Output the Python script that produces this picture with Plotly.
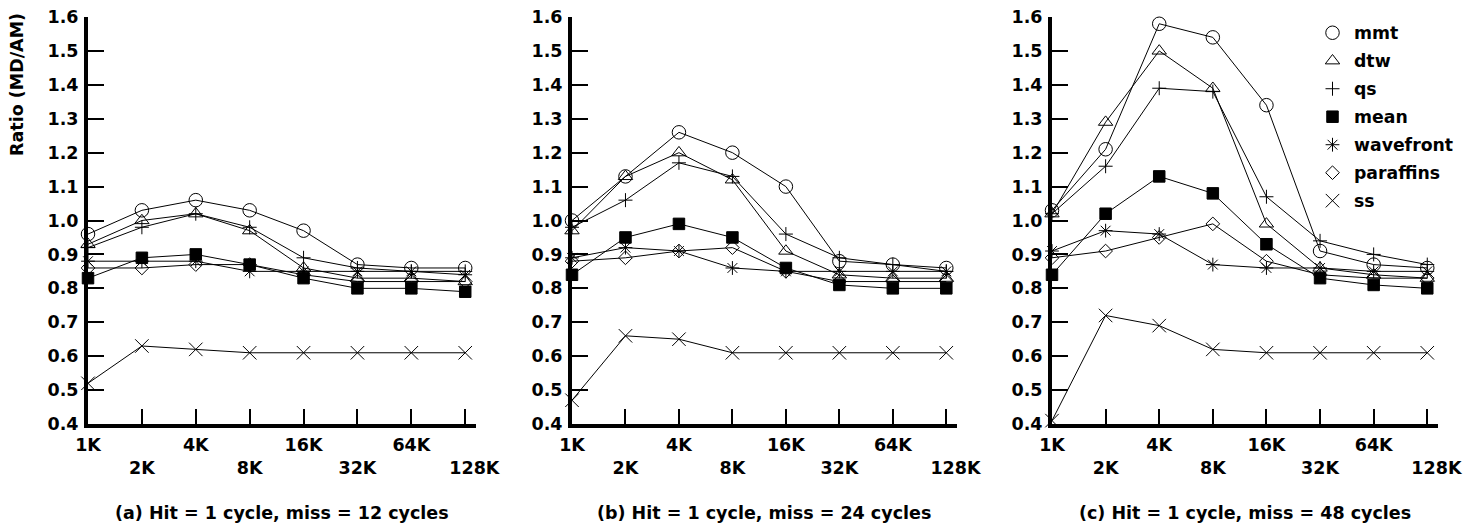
import plotly.graph_objects as go

sizes = ["1K", "2K", "4K", "8K", "16K", "32K", "64K", "128K"]
series_names = ["mmt", "dtw", "qs", "mean", "wavefront", "paraffins", "ss"]

# Panel (a): hit = 1 cycle, miss = 12 cycles
a_mmt = [0.96, 1.03, 1.06, 1.03, 0.97, 0.87, 0.86, 0.86]
a_dtw = [0.93, 1.00, 1.02, 0.97, 0.86, 0.83, 0.83, 0.82]
a_qs = [0.92, 0.98, 1.02, 0.98, 0.89, 0.86, 0.85, 0.85]
a_mean = [0.83, 0.89, 0.90, 0.87, 0.83, 0.80, 0.80, 0.79]
a_wavefront = [0.88, 0.88, 0.88, 0.85, 0.85, 0.85, 0.85, 0.84]
a_paraffins = [0.86, 0.86, 0.87, 0.87, 0.84, 0.82, 0.82, 0.82]
a_ss = [0.52, 0.63, 0.62, 0.61, 0.61, 0.61, 0.61, 0.61]

# Panel (b): hit = 1 cycle, miss = 24 cycles
b_mmt = [1.00, 1.13, 1.26, 1.20, 1.10, 0.88, 0.87, 0.86]
b_dtw = [0.97, 1.13, 1.20, 1.12, 0.91, 0.84, 0.83, 0.83]
b_qs = [0.98, 1.06, 1.17, 1.13, 0.96, 0.89, 0.87, 0.85]
b_mean = [0.84, 0.95, 0.99, 0.95, 0.86, 0.81, 0.80, 0.80]
b_wavefront = [0.89, 0.92, 0.91, 0.86, 0.85, 0.85, 0.85, 0.85]
b_paraffins = [0.88, 0.89, 0.91, 0.92, 0.85, 0.82, 0.82, 0.82]
b_ss = [0.47, 0.66, 0.65, 0.61, 0.61, 0.61, 0.61, 0.61]

# Panel (c): hit = 1 cycle, miss = 48 cycles
c_mmt = [1.03, 1.21, 1.58, 1.54, 1.34, 0.91, 0.87, 0.86]
c_dtw = [1.02, 1.29, 1.50, 1.39, 0.99, 0.86, 0.84, 0.83]
c_qs = [1.02, 1.16, 1.39, 1.38, 1.07, 0.94, 0.90, 0.87]
c_mean = [0.84, 1.02, 1.13, 1.08, 0.93, 0.83, 0.81, 0.80]
c_wavefront = [0.91, 0.97, 0.96, 0.87, 0.86, 0.86, 0.85, 0.85]
c_paraffins = [0.89, 0.91, 0.95, 0.99, 0.88, 0.84, 0.83, 0.83]
c_ss = [0.41, 0.72, 0.69, 0.62, 0.61, 0.61, 0.61, 0.61]

captions = ["(a) Hit = 1 cycle, miss = 12 cycles",
            "(b) Hit = 1 cycle, miss = 24 cycles",
            "(c) Hit = 1 cycle, miss = 48 cycles"]
y_ticks = [0.4, 0.5, 0.6, 0.7, 0.8, 0.9, 1.0, 1.1, 1.2, 1.3, 1.4, 1.5, 1.6]

panels = [
    [a_mmt, a_dtw, a_qs, a_mean, a_wavefront, a_paraffins, a_ss],
    [b_mmt, b_dtw, b_qs, b_mean, b_wavefront, b_paraffins, b_ss],
    [c_mmt, c_dtw, c_qs, c_mean, c_wavefront, c_paraffins, c_ss],
]

symbols = ["circle-open", "triangle-up-open", "cross-thin-open", "square",
           "asterisk-open", "diamond-open", "x-thin-open"]
msizes = [13.5, 12.5, 10, 11.5, 11.5, 10.5, 13.5]

W, H = 1481, 525


def px(x):
    return x / W


def py(y):
    return 1 - y / H


FONT = "DejaVu Sans, Verdana, sans-serif"
FS = 17.5
x_domains = [(px(88), px(476)), (px(572), px(957)), (px(1052), px(1438))]
y_domain = (py(424), py(17))

xs = list(range(len(sizes)))
fig = go.Figure()

for p, data in enumerate(panels):
    xa = "x" if p == 0 else f"x{p + 1}"
    ya = "y" if p == 0 else f"y{p + 1}"
    for s, vals in enumerate(data):
        fig.add_trace(go.Scatter(
            x=xs, y=vals, mode="lines", xaxis=xa, yaxis=ya,
            line=dict(color="black", width=1), showlegend=False,
            hoverinfo="skip"))
    for s, vals in enumerate(data):
        fig.add_trace(go.Scatter(
            x=xs, y=vals, mode="markers", xaxis=xa, yaxis=ya,
            name=series_names[s], cliponaxis=False,
            legendgroup=series_names[s],
            marker=dict(symbol=symbols[s], size=msizes[s], color="black",
                        line=dict(color="black", width=1)),
            showlegend=(p == 2)))

# alternate labels drop to a second row; the last one sits a little right
tick_text = []
for i, t in enumerate(sizes):
    if i % 2 == 0:
        tick_text.append(t)
    elif i == len(sizes) - 1:
        tick_text.append("<br>&nbsp;&nbsp;&nbsp;" + t)
    else:
        tick_text.append("<br>" + t)

for p in range(3):
    sfx = "" if p == 0 else str(p + 1)
    fig.layout["xaxis" + sfx] = dict(
        domain=list(x_domains[p]), range=[0, 7.2], anchor="y" + sfx,
        tickmode="array", tickvals=xs, ticktext=tick_text, tickangle=0,
        ticks="inside", ticklen=15.5, tickwidth=2, tickcolor="black",
        showline=True, linewidth=4, linecolor="black", showgrid=False,
        zeroline=False, fixedrange=True, ticklabelstandoff=2,
        ticklabeloverflow="allow", automargin=False,
        tickfont=dict(family=FONT, size=FS, color="black", weight="bold"))
    fig.layout["yaxis" + sfx] = dict(
        domain=list(y_domain), range=[0.4, 1.6], anchor="x" + sfx,
        tickmode="array", tickvals=y_ticks,
        ticktext=[f"{v:.1f}" for v in y_ticks],
        ticks="inside", ticklen=16, tickwidth=2, tickcolor="black",
        showline=True, linewidth=4, linecolor="black", showgrid=False,
        zeroline=False, fixedrange=True, ticklabelstandoff=2,
        ticklabeloverflow="allow", automargin=False,
        tickfont=dict(family=FONT, size=FS, color="black", weight="bold"))
    fig.add_annotation(
        text=captions[p], xref="paper", yref="paper",
        x=(x_domains[p][0] + x_domains[p][1]) / 2, y=py(513),
        xanchor="center", yanchor="middle", showarrow=False,
        font=dict(family=FONT, size=FS, color="black", weight="bold"))

fig.add_annotation(
    text="Ratio (MD/AM)", xref="paper", yref="paper", x=px(17), y=py(85),
    textangle=-90, xanchor="center", yanchor="middle", showarrow=False,
    font=dict(family=FONT, size=FS, color="black", weight="bold"))

fig.update_layout(
    width=W, height=H,
    margin=dict(l=0, r=0, t=0, b=0, autoexpand=False),
    paper_bgcolor="white", plot_bgcolor="white",
    showlegend=True,
    legend=dict(x=px(1311), y=py(15), xanchor="left", yanchor="top",
                bgcolor="rgba(0,0,0,0)", traceorder="grouped",
                tracegroupgap=2.5, itemwidth=33,
                font=dict(family=FONT, size=17.3, color="black",
                          weight="bold")),
)

fig.write_html("out.html")
